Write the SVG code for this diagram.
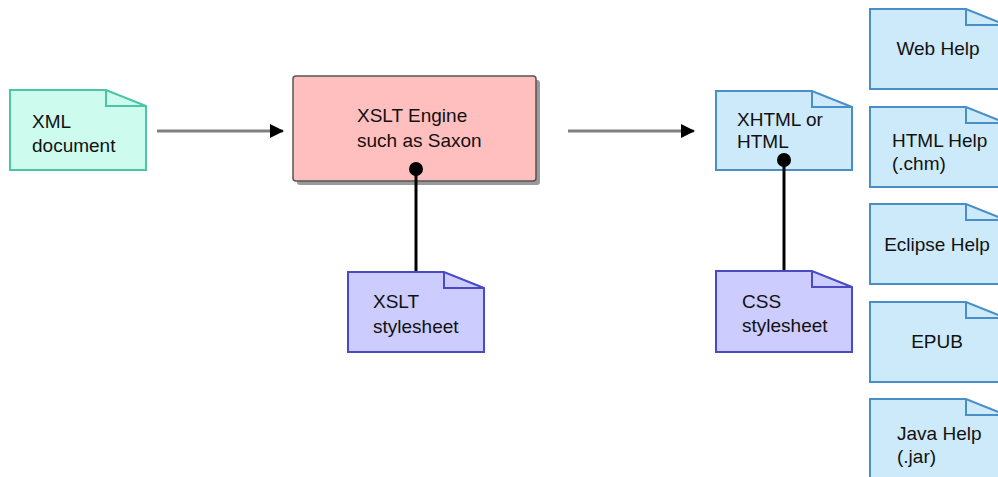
<svg xmlns="http://www.w3.org/2000/svg" width="998" height="477" viewBox="0 0 998 477">
<defs>
<style>
text{font-family:"Liberation Sans",Arial,sans-serif;font-size:19px;fill:#111}
.teal{fill:#cdfbee;stroke:#4cc4a6;stroke-width:2}
.purple{fill:#ccccff;stroke:#4a4ac4;stroke-width:2}
.blue{fill:#cdeafb;stroke:#4a8ec8;stroke-width:2}
.fold{fill:none;stroke-width:2}
.conn{stroke:#808080;stroke-width:3;fill:none}
.pin{stroke:#000;stroke-width:3;fill:none}
</style>
<marker id="arr" markerWidth="14" markerHeight="14" refX="13" refY="7" orient="auto" markerUnits="userSpaceOnUse">
<path d="M0,0 L14,7 L0,14 Z" fill="#000"/>
</marker>
</defs>
<rect width="998" height="477" fill="#fff"/>
<g id="xml">
<path class="teal" d="M10,90 H106 L146,106 V170 H10 Z"/>
<path class="fold" stroke="#4cc4a6" d="M106,90 V106 H146"/>
<text x="32" y="128">XML</text>
<text x="32" y="152">document</text>
</g>
<g id="engine">
<rect x="297" y="80" width="243" height="105" rx="3" fill="#9a9a9a"/>
<rect x="293" y="76" width="243" height="105" rx="3" fill="#ffbfbf" stroke="#555" stroke-width="1.5"/>
<text x="357" y="122">XSLT Engine</text>
<text x="357" y="147">such as Saxon</text>
</g>
<g id="xslt">
<path class="purple" d="M348,272 H444 L484,288 V352 H348 Z"/>
<path class="fold" stroke="#4a4ac4" d="M444,272 V288 H484"/>
<text x="373" y="308">XSLT</text>
<text x="373" y="333">stylesheet</text>
</g>
<g id="xhtml">
<path class="blue" d="M716,91 H812 L852,107 V170 H716 Z"/>
<path class="fold" stroke="#4a8ec8" d="M812,91 V107 H852"/>
<text x="737" y="126">XHTML or</text>
<text x="737" y="148">HTML</text>
</g>
<g id="css">
<path class="purple" d="M716,271 H812 L852,287 V352 H716 Z"/>
<path class="fold" stroke="#4a4ac4" d="M812,271 V287 H852"/>
<text x="742" y="308">CSS</text>
<text x="742" y="332">stylesheet</text>
</g>
<g id="webhelp">
<path class="blue" d="M870,9 H966 L1006,25 V89 H870 Z"/>
<path class="fold" stroke="#4a8ec8" d="M966,9 V25 H1006"/>
<text x="938" y="55" text-anchor="middle">Web Help</text>
</g>
<g id="htmlhelp">
<path class="blue" d="M870,107 H966 L1006,123 V187 H870 Z"/>
<path class="fold" stroke="#4a8ec8" d="M966,107 V123 H1006"/>
<text x="892" y="147">HTML Help</text>
<text x="892" y="170">(.chm)</text>
</g>
<g id="eclipse">
<path class="blue" d="M870,204 H966 L1006,220 V284 H870 Z"/>
<path class="fold" stroke="#4a8ec8" d="M966,204 V220 H1006"/>
<text x="937" y="251" text-anchor="middle">Eclipse Help</text>
</g>
<g id="epub">
<path class="blue" d="M870,302 H966 L1006,318 V382 H870 Z"/>
<path class="fold" stroke="#4a8ec8" d="M966,302 V318 H1006"/>
<text x="937" y="348" text-anchor="middle">EPUB</text>
</g>
<g id="javahelp">
<path class="blue" d="M870,399 H966 L1006,415 V479 H870 Z"/>
<path class="fold" stroke="#4a8ec8" d="M966,399 V415 H1006"/>
<text x="897" y="440">Java Help</text>
<text x="897" y="463">(.jar)</text>
</g>
<g id="connectors">
<line class="conn" x1="157" y1="131" x2="283" y2="131" marker-end="url(#arr)"/>
<line class="conn" x1="568" y1="131" x2="694" y2="131" marker-end="url(#arr)"/>
<line class="pin" x1="416" y1="169" x2="416" y2="271"/>
<circle cx="416" cy="169" r="7" fill="#000"/>
<line class="pin" x1="784" y1="160" x2="784" y2="270"/>
<circle cx="784" cy="160" r="7" fill="#000"/>
</g>
</svg>
